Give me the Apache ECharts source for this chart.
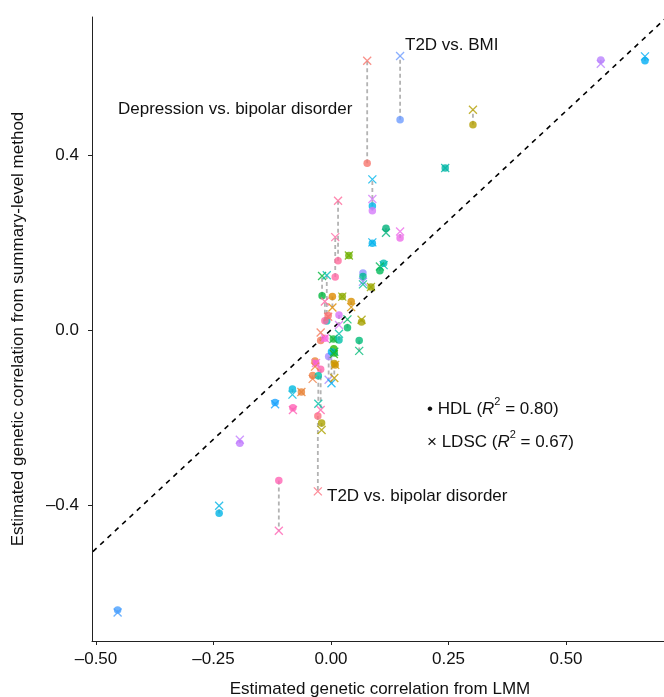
<!DOCTYPE html>
<html>
<head>
<meta charset="utf-8">
<script src="https://cdn.jsdelivr.net/npm/echarts@6/dist/echarts.min.js"></script>
<style>
  html, body { margin: 0; padding: 0; background: #fff; }
  #chart { width: 664px; height: 697px; }
</style>
</head>
<body>
<div id="chart"></div>
<script>
// genetic correlation per trait pair: LMM (x), HDL estimate (dot), LDSC estimate (cross)
const lmmCorr = [
  0.147, 0.302, 0.574, 0.668, 0.077, 0.243, 0.088, 0.088, 0.088, 0.117,
  0.147, 0.015, 0.009, 0.038, -0.019, -0.009, 0.068, 0.068, 0.085, 0.112,
  0.104, 0.003, 0.024, 0.043, 0.035, 0.065, 0.060, -0.022, -0.013, 0.005,
  0.017, -0.013, -0.006, 0.017, 0.006, 0.007, -0.005, 0.001, 0.007, 0.009,
  -0.034, -0.032, -0.022, -0.039, -0.027, -0.082, -0.063, -0.119, -0.081, -0.028,
  -0.020, -0.238, -0.194, -0.111, -0.454
];
const hdlCorr = [
  0.480, 0.469, 0.617, 0.615, 0.381, 0.370, 0.283, 0.272, 0.198, 0.232,
  0.210, 0.158, 0.121, 0.170, 0.078, 0.020, 0.130, 0.122, 0.098, 0.152,
  0.135, 0.076, 0.076, 0.065, 0.005, 0.018, -0.024, -0.024, -0.019, -0.021,
  -0.023, 0.021, 0.033, 0.034, -0.043, -0.053, -0.061, -0.050, -0.077, -0.080,
  -0.071, -0.076, -0.090, -0.104, -0.105, -0.135, -0.142, -0.166, -0.178, -0.197,
  -0.213, -0.419, -0.259, -0.344, -0.640
];
const ldscCorr = [
  0.626, 0.503, 0.608, 0.625, 0.615, 0.370, 0.344, 0.299, 0.200, 0.222,
  0.225, 0.295, 0.212, 0.170, 0.123, 0.125, 0.110, 0.104, 0.098, 0.148,
  0.145, 0.051, 0.076, 0.052, 0.024, 0.023, -0.048, -0.006, -0.019, -0.021,
  -0.009, 0.065, 0.030, 0.011, -0.055, -0.050, -0.114, -0.122, -0.110, -0.080,
  -0.084, -0.076, -0.183, -0.112, -0.169, -0.148, -0.142, -0.170, -0.183, -0.369,
  -0.229, -0.402, -0.251, -0.459, -0.646
];
const pairColors = [
  '#6E9CFF', '#B49F00', '#BA82FF', '#00AEF5', '#F8766D', '#00B5A5', '#00B5EC', '#D57AFA', '#00B3EE', '#00B27A',
  '#EE6BEA', '#FF6C9C', '#FF6CA6', '#6FB000', '#00B83C', '#00C0BA', '#8D94FF', '#00BC94', '#9BA800', '#00BDB0',
  '#00BA5A', '#E08B00', '#8DAB00', '#D89000', '#00BC6A', '#A7A300', '#00BC78', '#F5795A', '#F866E0', '#1BB840',
  '#00C1A8', '#FF67A4', '#F9716F', '#DA72F6', '#2FB600', '#00BC4C', '#A58AFF', '#00B2F2', '#C29A00', '#CF9500',
  '#EB8335', '#FB61D7', '#FF65AD', '#EF7F46', '#00BFA8', '#00B9E0', '#E8853A', '#1AA4FF', '#FF62B5', '#FC6F80',
  '#ACA200', '#00B4E6', '#C27DFF', '#FF64B4', '#4AA0FF'
];
const xTicks = [-0.5, -0.25, 0, 0.25, 0.5];
const yTicks = [-0.4, 0, 0.4];
const identityLine = [-0.6, 0.8];

const FONT = '"Liberation Sans", Arial, Helvetica, sans-serif';
const chart = echarts.init(document.getElementById('chart'), null, { renderer: 'canvas' });

const fmt = (v, d) => (v < 0 ? '\u2013' : '') + Math.abs(v).toFixed(d);

const segData = lmmCorr.map((x, i) => [x, hdlCorr[i], ldscCorr[i]]);
const dotData = lmmCorr.map((x, i) => ({ value: [x, hdlCorr[i]], itemStyle: { color: pairColors[i] } }));
const crossData = lmmCorr.map((x, i) => ({
  value: [x, ldscCorr[i]],
  itemStyle: { color: 'rgba(0,0,0,0)', borderColor: pairColors[i] }
}));

const axisCommon = {
  type: 'value',
  splitLine: { show: false },
  axisLine: { show: true, onZero: false, lineStyle: { color: '#222', width: 1 } },
  axisTick: { show: true, length: 4, lineStyle: { color: '#222' } },
  axisLabel: { color: '#111', fontSize: 17, fontFamily: FONT }
};

// legend line: plain text with an italic R and a raised 2
const legendRich = {
  a: { fontSize: 17, fontFamily: FONT, fill: '#111', lineHeight: 22, verticalAlign: 'bottom' },
  i: { fontSize: 17, fontFamily: FONT, fontStyle: 'italic', fill: '#111', lineHeight: 22, verticalAlign: 'bottom' },
  s: { fontSize: 11, fontFamily: FONT, fill: '#111', lineHeight: 11, verticalAlign: 'top' }
};

const option = {
  animation: false,
  backgroundColor: '#fff',
  grid: { left: 92, right: 0, top: 17, bottom: 56 },
  xAxis: {
    ...axisCommon,
    min: -0.5085, max: 0.7085,
    axisTick: { ...axisCommon.axisTick, customValues: xTicks },
    axisLabel: { ...axisCommon.axisLabel, margin: 10, customValues: xTicks, formatter: v => fmt(v, 2) }
  },
  yAxis: {
    ...axisCommon,
    min: -0.711, max: 0.715,
    axisTick: { ...axisCommon.axisTick, customValues: yTicks },
    axisLabel: { ...axisCommon.axisLabel, margin: 13, customValues: yTicks, formatter: v => fmt(v, 1) }
  },
  series: [
    {
      type: 'line',
      data: [[identityLine[0], identityLine[0]], [identityLine[1], identityLine[1]]],
      showSymbol: false,
      clip: true,
      silent: true,
      lineStyle: { color: '#000', width: 1.6, type: [5, 5] },
      z: 1
    },
    {
      type: 'custom',
      data: segData,
      encode: { x: 0, y: [1, 2] },
      clip: true,
      z: 2,
      renderItem: (params, api) => {
        const p1 = api.coord([api.value(0), api.value(1)]);
        const p2 = api.coord([api.value(0), api.value(2)]);
        return {
          type: 'line',
          shape: { x1: p1[0], y1: p1[1], x2: p2[0], y2: p2[1] },
          style: { stroke: '#b3b3b3', lineWidth: 1.8, lineDash: [4, 3] }
        };
      }
    },
    {
      type: 'scatter',
      data: dotData,
      symbol: 'circle',
      symbolSize: 7.5,
      z: 3
    },
    {
      type: 'scatter',
      data: crossData,
      symbol: 'path://M0,0L10,10M10,0L0,10',
      symbolSize: 8,
      itemStyle: { borderWidth: 1.3 },
      z: 4
    }
  ],
  graphic: [
    { type: 'text', left: 405, top: 37, style: { text: 'T2D vs. BMI', font: '17px ' + FONT, fill: '#111' } },
    { type: 'text', left: 118, top: 101, style: { text: 'Depression vs. bipolar disorder', font: '17px ' + FONT, fill: '#111' } },
    { type: 'text', left: 327, top: 488, style: { text: 'T2D vs. bipolar disorder', font: '17px ' + FONT, fill: '#111' } },
    {
      type: 'text', left: 427, top: 396,
      style: { text: '{a|\u2022 HDL (}{i|R}{s|2}{a| = 0.80)}', rich: legendRich }
    },
    {
      type: 'text', left: 427, top: 429,
      style: { text: '{a|\u00d7 LDSC (}{i|R}{s|2}{a| = 0.67)}', rich: legendRich }
    },
    {
      type: 'text', x: 18, y: 329, rotation: Math.PI / 2,
      style: {
        text: 'Estimated genetic correlation from summary-level method',
        font: '17px ' + FONT, fill: '#111', align: 'center', verticalAlign: 'middle'
      }
    },
    {
      type: 'text', x: 380, y: 689,
      style: {
        text: 'Estimated genetic correlation from LMM',
        font: '17px ' + FONT, fill: '#111', align: 'center', verticalAlign: 'middle'
      }
    }
  ]
};

chart.setOption(option);
window.addEventListener('resize', () => chart.resize());
</script>
</body>
</html>
